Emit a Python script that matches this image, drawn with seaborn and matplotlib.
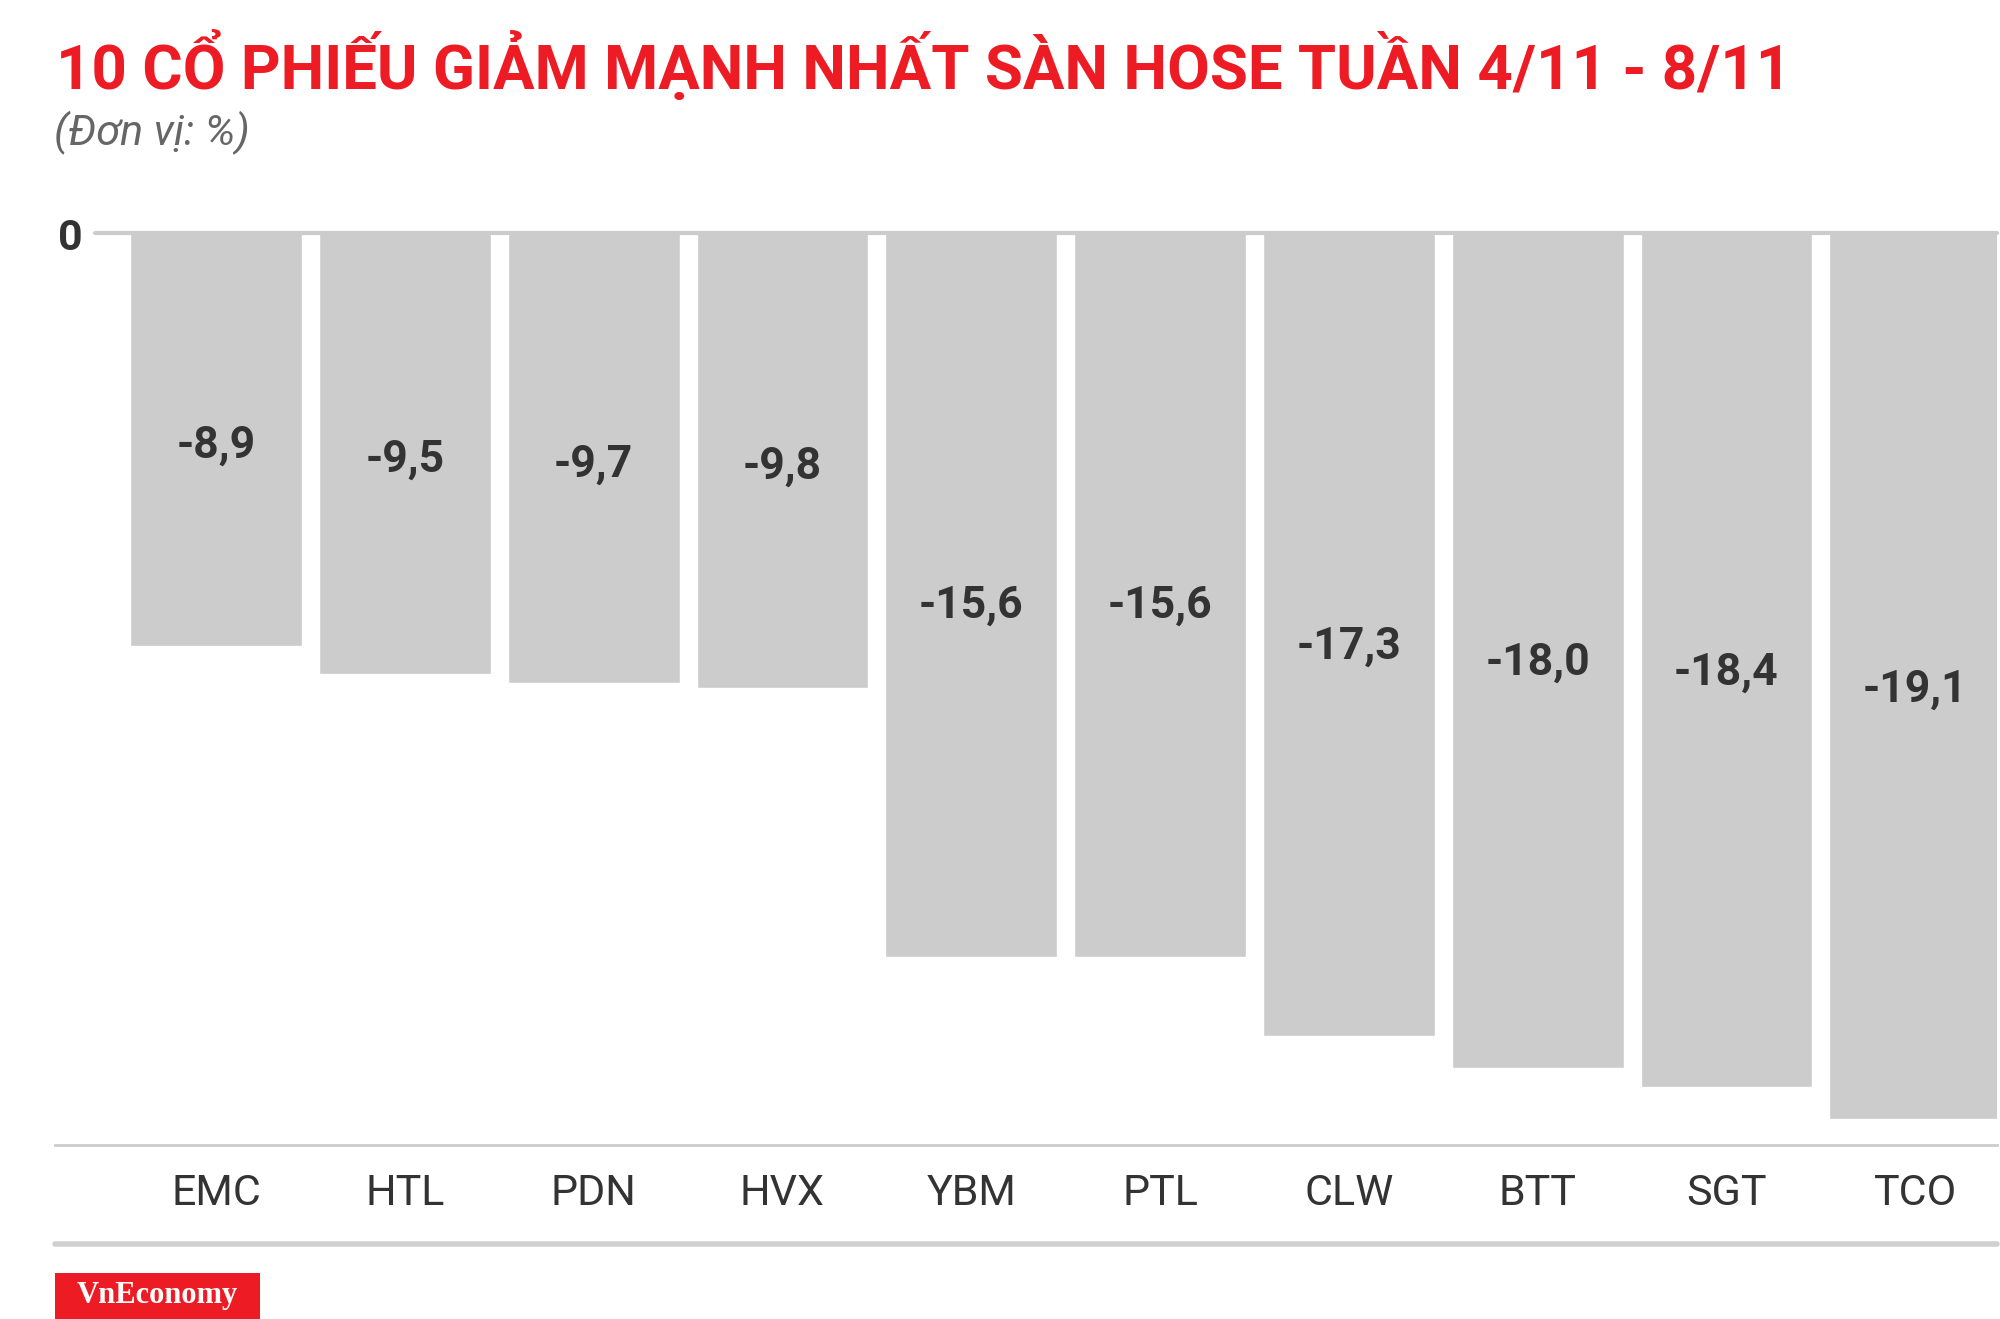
import matplotlib
matplotlib.use("Agg")
import matplotlib.pyplot as plt
import seaborn as sns
import pandas as pd
from matplotlib import font_manager
from matplotlib.lines import Line2D
from matplotlib.patches import Rectangle

tickers = ["EMC", "HTL", "PDN", "HVX", "YBM", "PTL", "CLW", "BTT", "SGT", "TCO"]
changes = [-8.9, -9.5, -9.7, -9.8, -15.6, -15.6, -17.3, -18.0, -18.4, -19.1]
labels = ["-8,9", "-9,5", "-9,7", "-9,8", "-15,6", "-15,6", "-17,3", "-18,0", "-18,4", "-19,1"]

title = "10 CỔ PHIẾU GIẢM MẠNH NHẤT SÀN HOSE TUẦN 4/11 - 8/11"
unit = "(Đơn vị: %)"

names = {f.name for f in font_manager.fontManager.ttflist}
cond = "Liberation Sans Narrow" if "Liberation Sans Narrow" in names else "Roboto"

RED = "#ed1c24"
DARK = "#333333"
BAR = "#cdcccd"
LINE = "#cccccc"

df = pd.DataFrame({"ticker": tickers, "change": changes})

sns.set_theme(style="white")
plt.rcParams["font.family"] = [cond, "DejaVu Sans"]

W, H = 2000, 1319
fig = plt.figure(figsize=(W / 100, H / 100), dpi=100)
ax = fig.add_axes([55 / W, 1 - 1145 / H, (1997 - 55) / W, (1145 - 233) / H])

sns.barplot(
    data=df,
    x="ticker",
    y="change",
    order=tickers,
    color=BAR,
    saturation=1,
    width=0.91,
    errorbar=None,
    ax=ax,
)

ax.set_xlim(-0.853, 9.433)
ax.set_ylim(-19.66, 0)

# zero line at top
ax.axhline(0, xmin=(95 - 55) / (1997 - 55), xmax=1, color=LINE, lw=3, clip_on=False, zorder=3)

# value labels inside the bars
for i, (v, lab) in enumerate(zip(changes, labels)):
    ax.text(i, v * 0.515, lab, ha="center", va="center", fontsize=32,
            fontweight="bold", color=DARK)

for s in ["top", "left", "right"]:
    ax.spines[s].set_visible(False)
ax.spines["bottom"].set_color(LINE)
ax.spines["bottom"].set_linewidth(2)

ax.set_yticks([])
ax.annotate("0", xy=((83 - 55) / (1997 - 55), 0), xycoords=ax.get_yaxis_transform(),
            xytext=(0, -4), textcoords="offset points", annotation_clip=False,
            ha="right", va="center", fontsize=31, fontweight="bold", color=DARK)
ax.tick_params(axis="x", length=0, pad=20, labelsize=31, labelcolor=DARK)
ax.set_xlabel("")
ax.set_ylabel("")

# title and unit
fig.text(56 / W, 1 - 89 / H, title, ha="left", va="baseline", fontsize=44.5,
         fontweight="bold", color=RED)
fig.text(54 / W, 1 - 145 / H, unit, ha="left", va="baseline", fontsize=31,
         style="italic", color="#666666")

# lower rule
fig.add_artist(Line2D([55 / W, 1997 / W], [1 - 1244 / H, 1 - 1244 / H],
                      color="#d0d0d0", lw=4))

# logo
fig.add_artist(Rectangle((55 / W, 0), (260 - 55) / W, (1319 - 1273) / H,
                         transform=fig.transFigure, color=RED, lw=0))
fig.text(157 / W, 1 - 1295 / H, "VnEconomy", ha="center", va="center",
         fontsize=22, fontweight="bold", color="white",
         family=["Liberation Serif", "DejaVu Serif"])

fig.savefig("out.png", dpi=100)
